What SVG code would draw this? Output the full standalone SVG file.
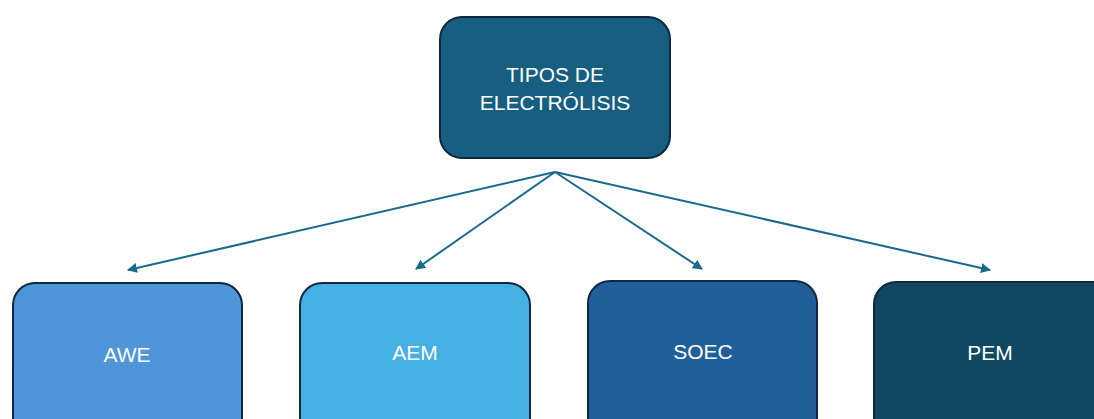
<svg xmlns="http://www.w3.org/2000/svg" width="1094" height="419" viewBox="0 0 1094 419">
<style>
.box{stroke:#0e2841;stroke-width:2}
.t{font-family:"Liberation Sans",Arial,sans-serif;font-size:21px;fill:#ffffff;text-anchor:middle}
.c{stroke:#196a8c;stroke-width:2;fill:none;marker-end:url(#ah)}
</style>
<defs>
<marker id="ah" viewBox="0 0 10 10" refX="9" refY="5" markerWidth="5" markerHeight="5" orient="auto" markerUnits="strokeWidth">
<path d="M0,0 L10,5 L0,10 z" fill="#196a8c"/>
</marker>
</defs>
<rect width="1094" height="419" fill="#ffffff"/>
<g id="connectors">
<line class="c" x1="555" y1="172" x2="128" y2="270"/>
<line class="c" x1="555" y1="172" x2="416" y2="269"/>
<line class="c" x1="555" y1="172" x2="702" y2="269"/>
<line class="c" x1="555" y1="172" x2="990" y2="270"/>
</g>
<g id="n-tipos">
<rect class="box" x="440" y="17" width="230" height="141" rx="22" fill="#165f80"/>
<text class="t" x="555" y="82">TIPOS DE</text>
<text class="t" x="555" y="110">ELECTRÓLISIS</text>
</g>
<g id="n-awe">
<rect class="box" x="13" y="283" width="229" height="160" rx="22" fill="#4e95d9"/>
<text class="t" x="127" y="362">AWE</text>
</g>
<g id="n-aem">
<rect class="box" x="300" y="283" width="230" height="160" rx="22" fill="#45b0e1"/>
<text class="t" x="415" y="360">AEM</text>
</g>
<g id="n-soec">
<rect class="box" x="588" y="281" width="229" height="160" rx="22" fill="#215f9a"/>
<text class="t" x="703" y="359">SOEC</text>
</g>
<g id="n-pem">
<rect class="box" x="874" y="282" width="240" height="160" rx="22" fill="#104862"/>
<text class="t" x="990" y="360">PEM</text>
</g>
</svg>
